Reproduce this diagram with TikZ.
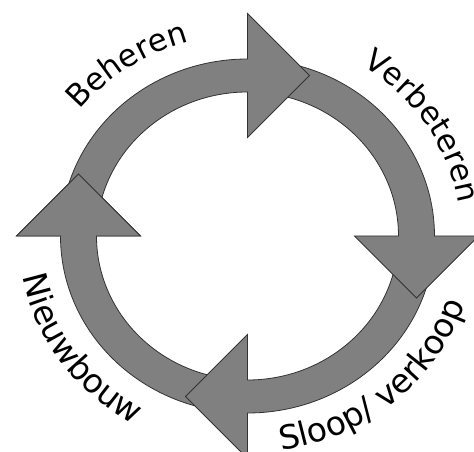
\documentclass[tikz,border=0pt]{standalone}
\usepackage{fontspec}
\setmainfont{DejaVu Sans}
\usetikzlibrary{decorations.text}
\definecolor{arrowgray}{RGB}{128,128,128}
\newcommand{\labelfont}{\fontsize{31}{36}\selectfont}
\newcommand{\lowlabelfont}{\fontsize{33}{38}\selectfont}
\tikzset{
  ringarrow/.style={fill=arrowgray, draw=black!80, line width=0.8pt, line join=miter},
  ringtext/.style={decorate, decoration={text along path, text align=center, text={#1}}},
}
% #1 = start angle of the shaft (hidden under previous head), #2 = angle of head base
\newcommand{\cyclearrow}[2]{%
  \filldraw[ringarrow] ({187*cos(#1)},{177*sin(#1)})
    arc[start angle=#1, end angle=#2, x radius=187pt, y radius=177pt]
    -- ({231*cos(#2)},{222.5*sin(#2)})
    -- ({169*cos(#2)+62*sin(#2)},{160.5*sin(#2)-62*cos(#2)})
    -- ({107*cos(#2)},{98.5*sin(#2)})
    -- ({151*cos(#2)},{144*sin(#2)})
    arc[start angle=#2, end angle=#1, x radius=151pt, y radius=144pt]
    -- cycle;}
\begin{document}
\begin{tikzpicture}[x=1pt,y=1pt]
  \useasboundingbox (-247.5,-216) rectangle (226.5,236);
  % arrows: left, bottom, right, top
  \cyclearrow{-100}{-180}
  \cyclearrow{-10}{-90}
  \cyclearrow{80}{0}
  \cyclearrow{170}{90}
  % left arrow head redrawn on top of the start of the top arrow
  \begin{scope}
    \clip (-250,-5) rectangle (-90,80);
    \cyclearrow{-100}{-180}
  \end{scope}
  % labels
  \path[ringtext={|\labelfont|Beheren}]
    ({214*cos(159)},{202*sin(159)}) arc[start angle=159, end angle=89, x radius=214pt, y radius=202pt];
  \path[ringtext={|\labelfont|Verbeteren}]
    ({214*cos(73)},{202*sin(73)}) arc[start angle=73, end angle=-7, x radius=214pt, y radius=202pt];
  \path[ringtext={|\lowlabelfont|Sloop/ verkoop}]
    ({229*cos(-97)},{217*sin(-97)}) arc[start angle=-97, end angle=-2, x radius=229pt, y radius=217pt];
  \path[ringtext={|\lowlabelfont|Nieuwbouw}]
    ({229*cos(170)},{217*sin(170)}) arc[start angle=170, end angle=260, x radius=229pt, y radius=217pt];
\end{tikzpicture}
\end{document}
